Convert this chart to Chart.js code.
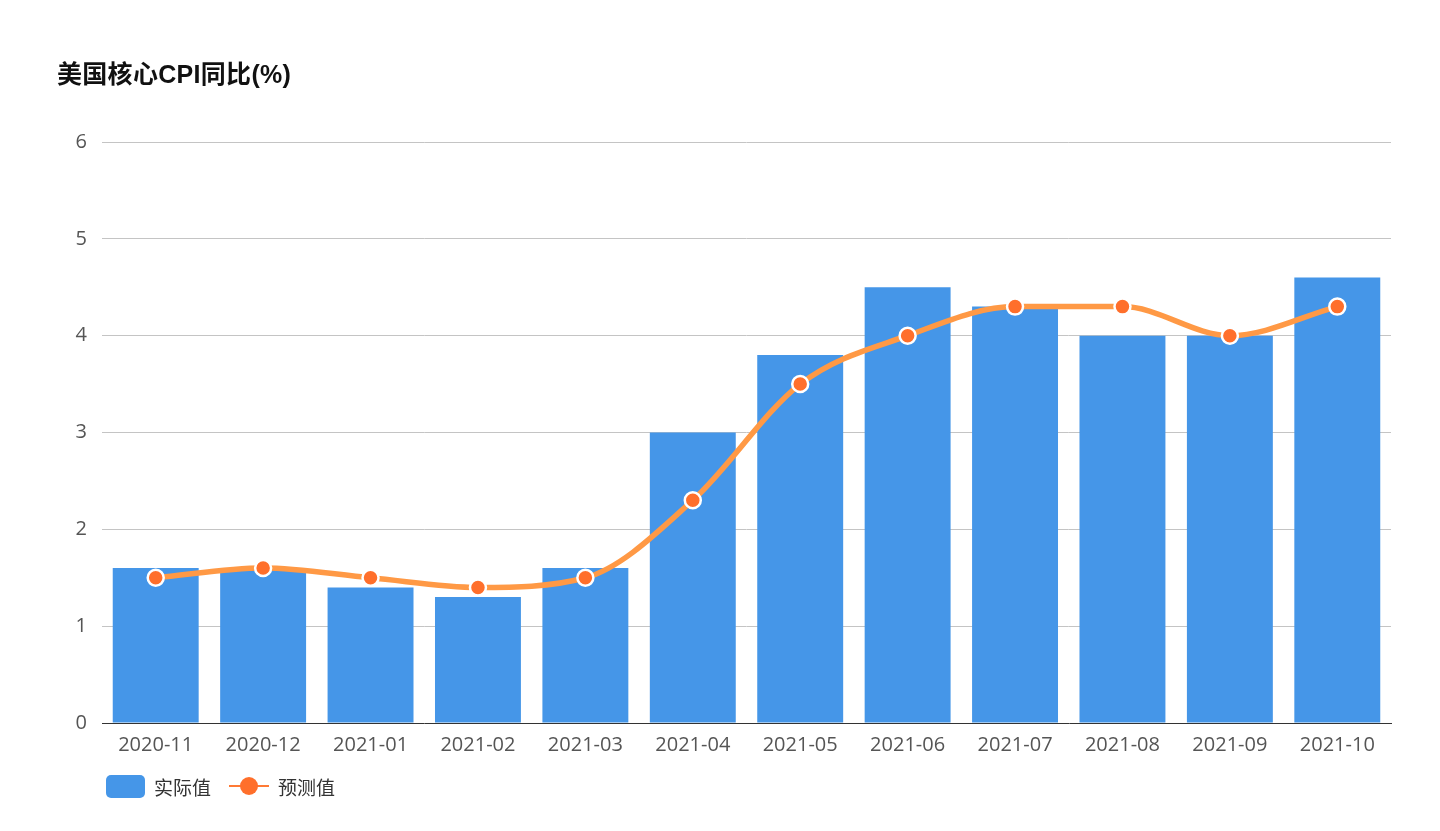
<!DOCTYPE html>
<html><head><meta charset="utf-8">
<script src="https://cdn.jsdelivr.net/npm/chart.js@4/dist/chart.umd.min.js"></script>
<style>
html,body{margin:0;padding:0;background:#fff;width:1440px;height:831px;overflow:hidden;font-family:"Noto Sans CJK SC","Noto Sans",sans-serif;}
#wrap{position:absolute;left:0;top:0;width:1440px;height:831px;}
#title{position:absolute;left:57px;top:54px;font-size:25px;font-weight:bold;color:#111;font-family:"Liberation Sans","Noto Sans CJK SC",sans-serif;letter-spacing:0.3px;}
#legend{position:absolute;left:106px;top:772px;height:28px;display:flex;align-items:center;font-size:19px;color:#333;}
.box{width:39px;height:23px;border-radius:5px;background:#4596e8;margin-right:9px;}
.ln{position:relative;width:40px;height:28px;margin-left:18px;margin-right:9px;}
.ln:before{content:"";position:absolute;left:0;right:0;top:13px;height:2px;background:#ff7a35;}
.ln:after{content:"";position:absolute;left:11px;top:5px;width:18px;height:18px;border-radius:50%;background:#ff6f2b;}
</style></head>
<body>
<div id="wrap"><canvas id="c" width="1440" height="831"></canvas></div>
<div id="title">美国核心CPI同比(%)</div>
<div id="legend"><div class="box"></div><span>实际值</span><div class="ln"></div><span>预测值</span></div>
<script>
const categories = ["2020-11","2020-12","2021-01","2021-02","2021-03","2021-04","2021-05","2021-06","2021-07","2021-08","2021-09","2021-10"];
const actualValues = [1.6,1.6,1.4,1.3,1.6,3.0,3.8,4.5,4.3,4.0,4.0,4.6];
const forecastValues = [1.5,1.6,1.5,1.4,1.5,2.3,3.5,4.0,4.3,4.3,4.0,4.3];
const yTicks = [0,1,2,3,4,5,6];

const tickFont = {family:'"Open Sans","Noto Sans",sans-serif', size:20};
new Chart(document.getElementById('c'), {
  data: {
    labels: categories,
    datasets: [
      {type:'line', label:'预测值', data: forecastValues, borderColor:'#ff9945', borderWidth:5.5,
       pointBackgroundColor:'#ff6f2b', pointBorderColor:'#ffffff', pointBorderWidth:2.5, pointRadius:8,
       cubicInterpolationMode:'monotone', order:0},
      {type:'bar', label:'实际值', data: actualValues, backgroundColor:'#4596e8',
       barPercentage:0.8, categoryPercentage:1.0, order:1}
    ]
  },
  options: {
    responsive:false, animation:false, devicePixelRatio:1,
    layout:{padding:{top:142,left:0,right:49,bottom:68}},
    plugins:{legend:{display:false}, tooltip:{enabled:false}, title:{display:false}},
    scales:{
      x:{
        grid:{display:false, drawTicks:false},
        border:{display:true, color:'#333', width:1},
        ticks:{font:tickFont, color:'#555', padding:10, maxRotation:0},
        afterFit:(s)=>{s.height=40;}
      },
      y:{
        min:0, max:6,
        afterBuildTicks:(s)=>{s.ticks = yTicks.map(v=>({value:v}));},
        grid:{color:(c)=> c.tick && c.tick.value===0 ? 'rgba(0,0,0,0)' : '#c4c4c4', drawTicks:false, lineWidth:1},
        border:{display:false},
        ticks:{font:tickFont, color:'#555', padding:15},
        afterFit:(s)=>{s.width=102;}
      }
    }
  }
});
</script>
</body></html>
